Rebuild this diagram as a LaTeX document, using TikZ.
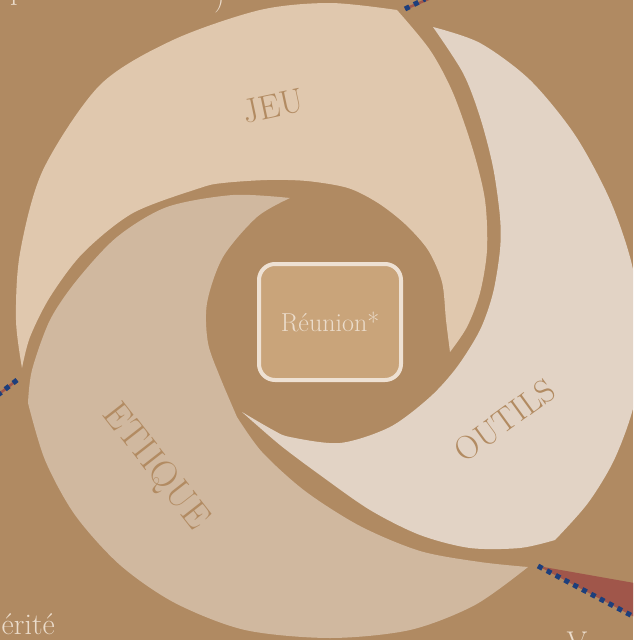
\documentclass[tikz,border=0pt]{standalone}
\definecolor{bg}{HTML}{B08A62}
\definecolor{jeuc}{HTML}{E0C8AE}
\definecolor{outc}{HTML}{E2D3C5}
\definecolor{ethc}{HTML}{D0B89F}
\definecolor{boxf}{HTML}{C9A47A}
\definecolor{boxl}{HTML}{EEE1D3}
\definecolor{lblc}{HTML}{B28B62}
\definecolor{txtc}{HTML}{EBDCCB}
\definecolor{redc}{HTML}{A0564A}
\definecolor{bluec}{HTML}{1D3F7C}
\tikzset{
  lbl/.style={text=lblc, inner sep=0pt},
  edgetxt/.style={text=txtc, font=\fontsize{30}{30}\selectfont, inner sep=0pt},
  bluedots/.style={draw=bluec, line width=5pt, dash pattern=on 5pt off 5pt},
  redline/.style={draw=redc, line width=2.5pt},
}
\begin{document}
\begin{tikzpicture}[x=1pt,y=-1pt]
\useasboundingbox (0,0) rectangle (633,640);
\clip (0,0) rectangle (633,640);
\fill[bg] (0,0) rectangle (633,640);

% JEU blade
\fill[jeuc] plot[smooth] coordinates {(22,368) (16,320) (20,253) (43,170) (100,85) (173,40) (260,10) (330,3) (397,10)}
  -- plot[smooth] coordinates {(397,10) (430,50) (453,93) (473,150) (485,200) (487,250) (480,293) (467,327) (450,352)}
  -- plot[smooth] coordinates {(450,352) (446,320) (442,282) (428,250) (405,224) (378,203) (348,188) (307,181) (267,180) (223,183) (200,188) (133,213) (83,253) (50,297) (30,337) (22,368)}
  -- cycle;

% OUTILS blade
\fill[outc] plot[smooth] coordinates {(433,27) (480,43) (530,80) (575,135) (610,200) (632,265) (640,330) (635,400) (615,458) (588,503) (555,540)}
  -- plot[smooth] coordinates {(555,540) (520,548) (470,548) (420,535) (370,510) (320,475) (280,445) (242,412)}
  -- plot[smooth] coordinates {(242,412) (273,430) (290,437) (340,443) (390,427) (430,397) (457,367) (480,330) (493,293) (500,250) (500,217) (493,167) (480,117) (463,73) (433,27)}
  -- cycle;

% ETHIQUE blade
\fill[ethc] plot[smooth] coordinates {(290,198) (233,195) (167,207) (117,237) (77,280) (50,320) (32,370) (28,403)}
  -- plot[smooth] coordinates {(28,403) (45,460) (75,515) (120,565) (175,603) (245,630) (330,638) (410,630) (475,605) (528,567)}
  -- plot[smooth] coordinates {(528,567) (480,562) (420,551) (360,526) (305,491) (262,452) (237,417)}
  -- plot[smooth] coordinates {(237,417) (220,377) (208,343) (207,303) (223,257) (257,217) (290,198)}
  -- cycle;

% centre box
\node[draw=boxl, line width=4pt, fill=boxf, rounded corners=16pt,
      minimum width=142pt, minimum height=116pt, text=txtc,
      font=\fontsize{26}{26}\selectfont] (reunion) at (330,322) {Réunion*};

% labels
\node[lbl, font=\fontsize{34}{34}\selectfont, rotate=12] (jeu) at (273,106) {JEU};
\node[lbl, font=\fontsize{33}{33}\selectfont, rotate=36] (outils) at (505,420) {OUTILS};
\node[lbl, font=\fontsize{37}{37}\selectfont, rotate=-52] (ethique) at (155,467) {ETIIQUE};

% partial texts at the edges
\node[edgetxt, anchor=base west] (ptop) at (10,-1) {p};
\node[edgetxt, anchor=base west] (ctop) at (214,5) {)};
\node[edgetxt, anchor=base east] (verite) at (55,634) {érité};
\node[edgetxt, anchor=base] (vbot) at (577,652) {V};

% connector fragments
\coordinate (t1) at (405,9);
\coordinate (t2) at (425,-1);
\coordinate (t3) at (445,-8);
\draw[redline] (t1) -- (t3);
\draw[bluedots] (t1) -- (t2);

\coordinate (l1) at (17,380);
\coordinate (l2) at (-6,398);
\draw[redline] (l1) -- (l2);
\draw[bluedots] (l1) -- (l2);

\coordinate (b1) at (538,566);
\coordinate (b2) at (640,584);
\coordinate (b3) at (640,620);
\fill[redc] (b1) -- (b2) -- (b3) -- cycle;
\draw[bluedots] (b1) -- (b3);
\end{tikzpicture}
\end{document}
